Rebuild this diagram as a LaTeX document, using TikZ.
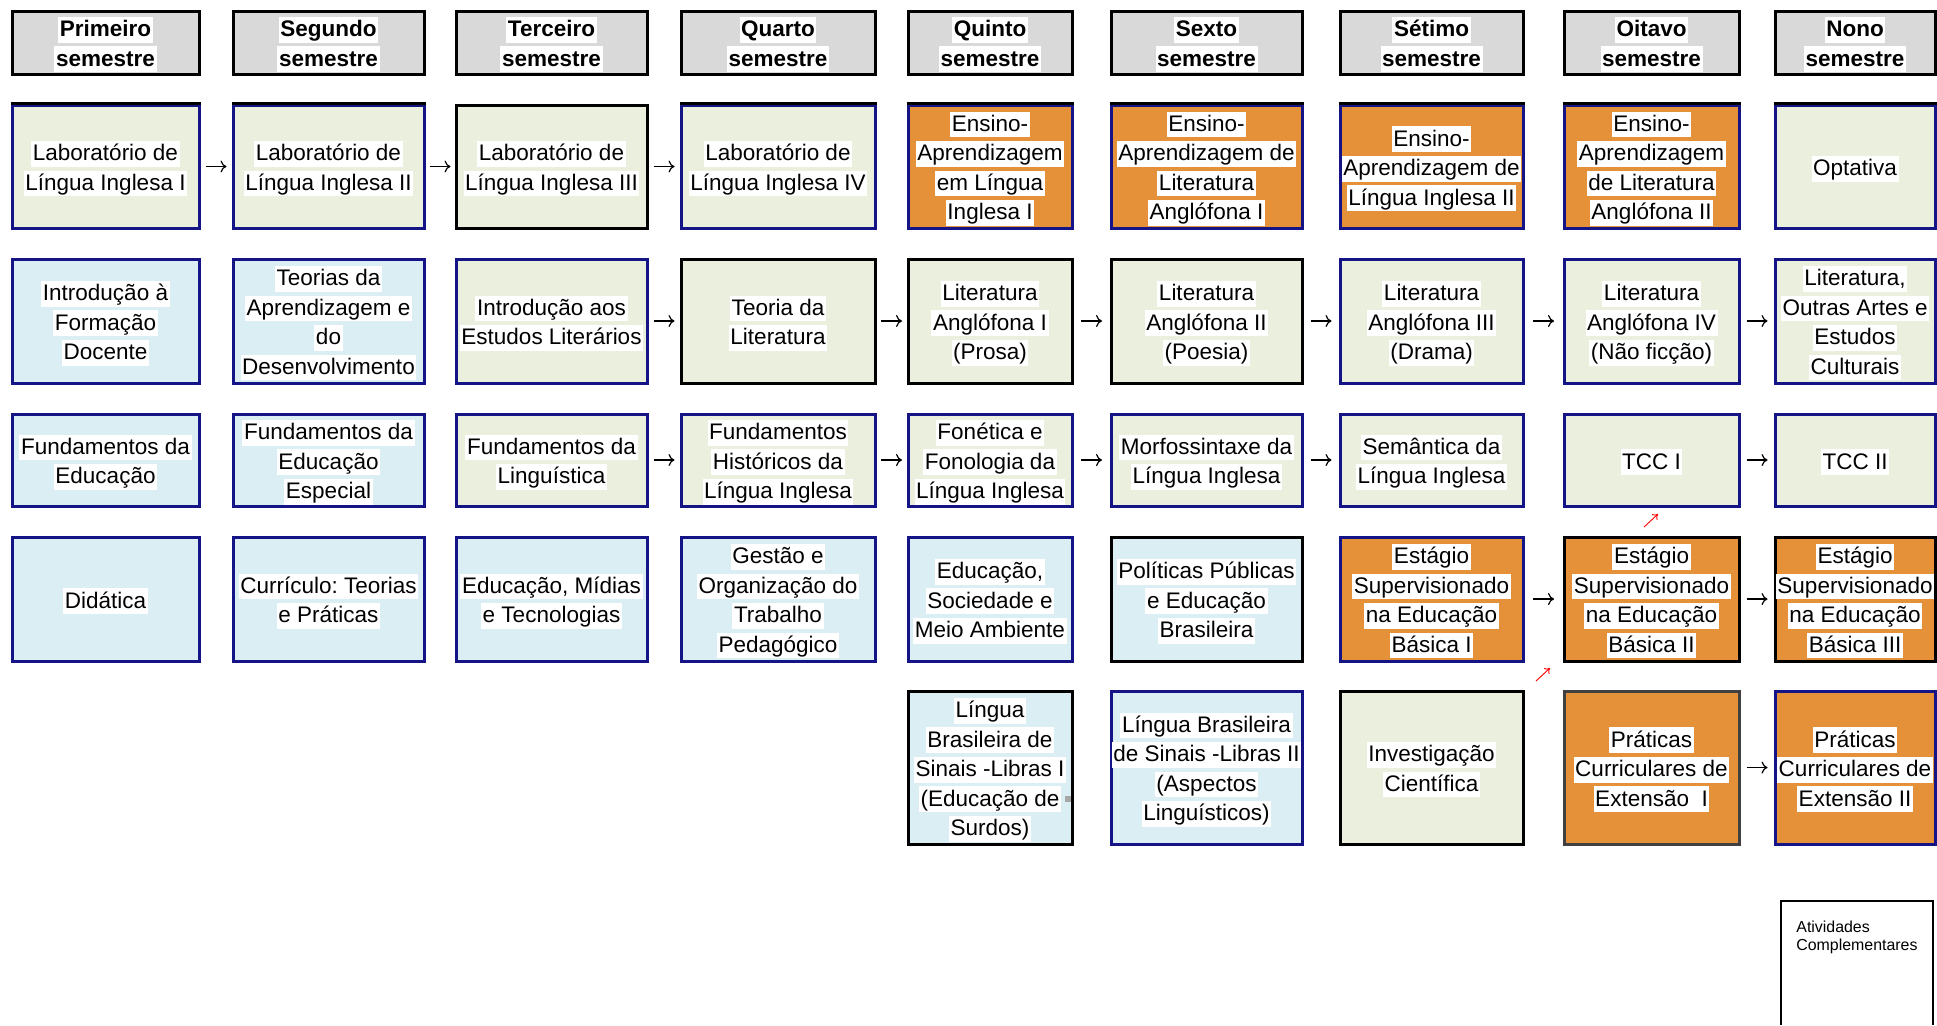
\documentclass[tikz,border=0pt]{standalone}
\usepackage{fontspec}
\setmainfont{Liberation Sans}
\usetikzlibrary{calc,arrows.meta}
\definecolor{navyb}{RGB}{20,20,135}
\definecolor{cgreen}{RGB}{235,240,222}
\definecolor{cblue}{RGB}{219,238,244}
\definecolor{corange}{RGB}{229,145,58}
\definecolor{hdrgray}{RGB}{217,217,217}
\definecolor{dkgray}{RGB}{64,64,64}
\setlength{\fboxsep}{0pt}
\frenchspacing
\newcommand\hl[1]{\makebox[0pt]{\raisebox{-1.1pt}[9.85pt][3pt]{\colorbox{white}{\rule[-3pt]{0pt}{12.85pt}\kern0.8pt#1\kern0.8pt}}}}
\newcommand\link[2]{\draw[arr] ($(#1.east)!0.5!(#2.west)$) ++(-10.5,0) -- ++(21,0);}
\tikzset{
  cell/.style={rectangle, draw, line width=1.5pt, inner sep=0pt, align=center},
  hdr/.style={cell, draw=black, fill=hdrgray, font=\fontsize{11.25pt}{14.6pt}\selectfont\bfseries},
  gn/.style={cell, fill=cgreen, draw=navyb},
  gk/.style={cell, fill=cgreen, draw=black},
  bn/.style={cell, fill=cblue, draw=navyb},
  bk/.style={cell, fill=cblue, draw=black},
  on/.style={cell, fill=corange, draw=navyb},
  ok/.style={cell, fill=corange, draw=black},
  od/.style={cell, fill=corange, draw=dkgray},
  topk/.style={append after command={(\tikzlastnode.north west) edge[draw=black, line width=1.5pt] (\tikzlastnode.north east)}},
  w1/.style={minimum width=93.5pt},
  w2/.style={minimum width=95.5pt},
  w3/.style={minimum width=95.5pt},
  w4/.style={minimum width=97pt},
  w5/.style={minimum width=82pt},
  w6/.style={minimum width=95.5pt},
  w7/.style={minimum width=91.5pt},
  w8/.style={minimum width=87.5pt},
  w9/.style={minimum width=80pt},
  h0/.style={minimum height=31.5pt},
  h1/.style={minimum height=61.5pt},
  h2/.style={minimum height=62pt},
  h3/.style={minimum height=46pt},
  h4/.style={minimum height=62pt},
  h5/.style={minimum height=76.5pt},
  arr/.style={-{To[length=3pt,width=6pt]}, line width=0.6pt, black},
  redarr/.style={-{To[length=2.5pt,width=4pt]}, line width=0.45pt, red}
}
\begin{document}
\begin{tikzpicture}[x=0.5pt, y=-0.5pt, font=\fontsize{11.25pt}{14.75pt}\selectfont]
\useasboundingbox (0,0) rectangle (1937,1025);
% headers
\node[hdr,w1,h0] (hd1) at (105.5,42.5) {\hl{Primeiro}\\\hl{semestre}};
\node[hdr,w2,h0] (hd2) at (328.5,42.5) {\hl{Segundo}\\\hl{semestre}};
\node[hdr,w3,h0] (hd3) at (551.5,42.5) {\hl{Terceiro}\\\hl{semestre}};
\node[hdr,w4,h0] (hd4) at (778,42.5) {\hl{Quarto}\\\hl{semestre}};
\node[hdr,w5,h0] (hd5) at (990,42.5) {\hl{Quinto}\\\hl{semestre}};
\node[hdr,w6,h0] (hd6) at (1206.5,42.5) {\hl{Sexto}\\\hl{semestre}};
\node[hdr,w7,h0] (hd7) at (1431.5,42.5) {\hl{Sétimo}\\\hl{semestre}};
\node[hdr,w8,h0] (hd8) at (1651.5,42.5) {\hl{Oitavo}\\\hl{semestre}};
\node[hdr,w9,h0] (hd9) at (1855,42.5) {\hl{Nono}\\\hl{semestre}};
% row 1
\node[gn,topk,w1,h1] (r1c1) at (105.5,166.5) {\hl{Laboratório de}\\\hl{Língua Inglesa I}};
\node[gn,topk,w2,h1] (r1c2) at (328.5,166.5) {\hl{Laboratório de}\\\hl{Língua Inglesa II}};
\node[gk,w3,h1] (r1c3) at (551.5,166.5) {\hl{Laboratório de}\\\hl{Língua Inglesa III}};
\node[gn,topk,w4,h1] (r1c4) at (778,166.5) {\hl{Laboratório de}\\\hl{Língua Inglesa IV}};
\node[on,topk,w5,h1] (r1c5) at (990,166.5) {\hl{Ensino-}\\\hl{Aprendizagem}\\\hl{em Língua}\\\hl{Inglesa I}};
\node[on,topk,w6,h1] (r1c6) at (1206.5,166.5) {\hl{Ensino-}\\\hl{Aprendizagem de}\\\hl{Literatura}\\\hl{Anglófona I}};
\node[on,topk,w7,h1] (r1c7) at (1431.5,166.5) {\hl{Ensino-}\\\hl{Aprendizagem de}\\\hl{Língua Inglesa II}};
\node[on,topk,w8,h1] (r1c8) at (1651.5,166.5) {\hl{Ensino-}\\\hl{Aprendizagem}\\\hl{de Literatura}\\\hl{Anglófona II}};
\node[gn,topk,w9,h1] (r1c9) at (1855,166.5) {\hl{Optativa}};
% row 2
\node[bn,w1,h2] (r2c1) at (105.5,321) {\hl{Introdução à}\\\hl{Formação}\\\hl{Docente}};
\node[bn,w2,h2] (r2c2) at (328.5,321) {\hl{Teorias da}\\\hl{Aprendizagem e}\\\hl{do}\\\hl{Desenvolvimento}};
\node[gn,w3,h2] (r2c3) at (551.5,321) {\hl{Introdução aos}\\\hl{Estudos Literários}};
\node[gk,w4,h2] (r2c4) at (778,321) {\hl{Teoria da}\\\hl{Literatura}};
\node[gk,w5,h2] (r2c5) at (990,321) {\hl{Literatura}\\\hl{Anglófona I}\\\hl{(Prosa)}};
\node[gk,w6,h2] (r2c6) at (1206.5,321) {\hl{Literatura}\\\hl{Anglófona II}\\\hl{(Poesia)}};
\node[gn,w7,h2] (r2c7) at (1431.5,321) {\hl{Literatura}\\\hl{Anglófona III}\\\hl{(Drama)}};
\node[gn,w8,h2] (r2c8) at (1651.5,321) {\hl{Literatura}\\\hl{Anglófona IV}\\\hl{(Não ficção)}};
\node[gn,w9,h2] (r2c9) at (1855,321) {\hl{Literatura,}\\\hl{Outras Artes e}\\\hl{Estudos}\\\hl{Culturais}};
% row 3
\node[bn,w1,h3] (r3c1) at (105.5,460) {\hl{Fundamentos da}\\\hl{Educação}};
\node[bn,w2,h3] (r3c2) at (328.5,460) {\hl{Fundamentos da}\\\hl{Educação}\\\hl{Especial}};
\node[gn,w3,h3] (r3c3) at (551.5,460) {\hl{Fundamentos da}\\\hl{Linguística}};
\node[gn,w4,h3] (r3c4) at (778,460) {\hl{Fundamentos}\\\hl{Históricos da}\\\hl{Língua Inglesa}};
\node[gn,w5,h3] (r3c5) at (990,460) {\hl{Fonética e}\\\hl{Fonologia da}\\\hl{Língua Inglesa}};
\node[gn,w6,h3] (r3c6) at (1206.5,460) {\hl{Morfossintaxe da}\\\hl{Língua Inglesa}};
\node[gn,w7,h3] (r3c7) at (1431.5,460) {\hl{Semântica da}\\\hl{Língua Inglesa}};
\node[gn,w8,h3] (r3c8) at (1651.5,460) {\hl{TCC I}};
\node[gn,w9,h3] (r3c9) at (1855,460) {\hl{TCC II}};
% row 4
\node[bn,w1,h4] (r4c1) at (105.5,599) {\hl{Didática}};
\node[bn,w2,h4] (r4c2) at (328.5,599) {\hl{Currículo: Teorias}\\\hl{e Práticas}};
\node[bn,w3,h4] (r4c3) at (551.5,599) {\hl{Educação, Mídias}\\\hl{e Tecnologias}};
\node[bn,w4,h4] (r4c4) at (778,599) {\hl{Gestão e}\\\hl{Organização do}\\\hl{Trabalho}\\\hl{Pedagógico}};
\node[bn,w5,h4] (r4c5) at (990,599) {\hl{Educação,}\\\hl{Sociedade e}\\\hl{Meio Ambiente}};
\node[bk,w6,h4] (r4c6) at (1206.5,599) {\hl{Políticas Públicas}\\\hl{e Educação}\\\hl{Brasileira}};
\node[on,w7,h4] (r4c7) at (1431.5,599) {\hl{Estágio}\\\hl{Supervisionado}\\\hl{na Educação}\\\hl{Básica I}};
\node[ok,w8,h4] (r4c8) at (1651.5,599) {\hl{Estágio}\\\hl{Supervisionado}\\\hl{na Educação}\\\hl{Básica II}};
\node[ok,w9,h4] (r4c9) at (1855,599) {\hl{Estágio}\\\hl{Supervisionado}\\\hl{na Educação}\\\hl{Básica III}};
% row 5
\node[bk,w5,h5] (r5c5) at (990,767.5) {\hl{Língua}\\\hl{Brasileira de}\\\hl{Sinais -Libras I}\\\hl{(Educação de}\\\hl{Surdos)}};
\node[bn,w6,h5] (r5c6) at (1206.5,767.5) {\hl{Língua Brasileira}\\\hl{de Sinais -Libras II}\\\hl{(Aspectos}\\\hl{Linguísticos)}};
\node[gk,w7,h5] (r5c7) at (1431.5,767.5) {\hl{Investigação}\\\hl{Científica}};
\node[od,w8,h5] (r5c8) at (1651.5,767.5) {\hl{Práticas}\\\hl{Curriculares de}\\\hl{Extensão\ \ I}};
\node[on,w9,h5] (r5c9) at (1855,767.5) {\hl{Práticas}\\\hl{Curriculares de}\\\hl{Extensão II}};
% small grey mark
\fill[gray!70] (1065,796) rectangle (1071,802);
% arrows
\link{r1c1}{r1c2}
\link{r1c2}{r1c3}
\link{r1c3}{r1c4}
\link{r2c3}{r2c4}
\link{r2c4}{r2c5}
\link{r2c5}{r2c6}
\link{r2c6}{r2c7}
\link{r2c7}{r2c8}
\link{r2c8}{r2c9}
\link{r3c3}{r3c4}
\link{r3c4}{r3c5}
\link{r3c5}{r3c6}
\link{r3c6}{r3c7}
\link{r3c8}{r3c9}
\link{r4c7}{r4c8}
\link{r4c8}{r4c9}
\link{r5c8}{r5c9}
% red arrows
\coordinate (ra1s) at (1644,527);
\coordinate (ra1e) at (1658,514);
\coordinate (ra2s) at (1536,681);
\coordinate (ra2e) at (1550,668);
\draw[redarr] (ra1s) -- (ra1e);
\draw[redarr] (ra2s) -- (ra2e);
% Atividades Complementares
\node[minimum width=76pt, minimum height=62pt, inner sep=0pt] (atv) at (1857,963) {};
\draw[line width=1pt] (atv.south west) |- (atv.north east) -- (atv.south east);
\node[anchor=north west, inner sep=0pt, align=left, font=\fontsize{7.95pt}{9.2pt}\selectfont] (atvtext) at (1796,920.5) {Atividades\\Complementares};
\end{tikzpicture}
\end{document}
